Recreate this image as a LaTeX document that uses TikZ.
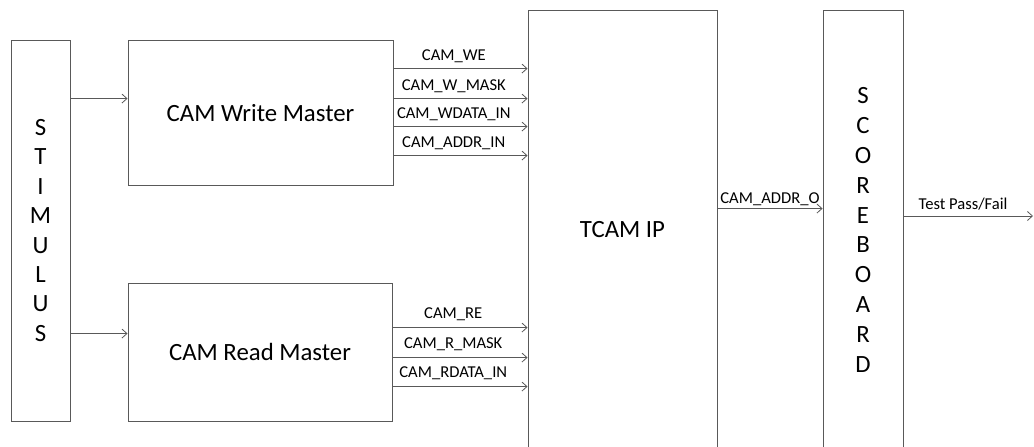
\documentclass[tikz,border=0pt]{standalone}
\usepackage{fontspec}
\setmainfont{Carlito}
\usetikzlibrary{arrows.meta,positioning,calc}
\definecolor{tbLine}{RGB}{89,89,89}

\begin{document}
\begin{tikzpicture}[
  x=1pt, y=-1pt,
  blk/.style={draw=tbLine, line width=0.9pt, inner sep=0pt, font=\fontsize{24.8}{29}\selectfont},
  vblk/.style={blk, align=center, font=\fontsize{24.8}{#1}\selectfont},
  sig/.style={draw=tbLine, line width=0.8pt, -{Straight Barb[length=5pt,width=9pt]}},
  lbl/.style={font=\fontsize{16.6}{19}\selectfont, anchor=base, yshift=#1},
  lbl/.default=8.6pt
]
\useasboundingbox (0,0) rectangle (1034,447);

%============ BLOCKS ============
\node[vblk=29.4pt, minimum width=59pt, minimum height=381pt] (stim) at (40.5,230.5) {S\\T\\I\\M\\U\\L\\U\\S};
\node[blk, minimum width=265pt, minimum height=145.5pt] (wm) at (260.5,112.75) {CAM Write Master};
\node[blk, minimum width=264pt, minimum height=137.5pt] (rm) at (260,352.25) {CAM Read Master};
\node[blk, minimum width=189pt, minimum height=440pt] (tcam) at (622.5,230) {TCAM IP};
\node[vblk=29.8pt, minimum width=80pt, minimum height=440pt] (sb) at (863,230) {S\\C\\O\\R\\E\\B\\O\\A\\R\\D};

%============ STIMULUS ============
\draw[sig] ([yshift=-59pt]wm.north west -| stim.east) -- ([yshift=-59pt]wm.north west);
\draw[sig] ([yshift=-50.5pt]rm.north west -| stim.east) -- ([yshift=-50.5pt]rm.north west);

%============ WRITE / READ BUSES ============
\foreach \dy/\txt in {29/CAM\_WE, 59/CAM\_W\_MASK, 87/CAM\_WDATA\_IN, 116/CAM\_ADDR\_IN}
  \draw[sig] ([yshift=-\dy pt]wm.north east) -- ([yshift=-\dy pt]wm.north east -| tcam.west)
    node[lbl=7.6pt, pos=0.45] {\txt};
\foreach \dy/\txt in {44.5/CAM\_RE, 74.5/CAM\_R\_MASK, 103.5/CAM\_RDATA\_IN}
  \draw[sig] ([yshift=-\dy pt]rm.north east) -- ([yshift=-\dy pt]rm.north east -| tcam.west)
    node[lbl, pos=0.45] {\txt};

%============ OUTPUTS ============
\draw[sig] ([yshift=-199pt]tcam.north east) -- ([yshift=-199pt]tcam.north east -| sb.west)
  node[lbl=4.6pt, pos=0.5] {CAM\_ADDR\_O};
\coordinate (res) at (1033,216);
\draw[sig] (sb.east |- res) -- (res) node[lbl=6.6pt, pos=0.46] {Test Pass/Fail};

\end{tikzpicture}
\end{document}
